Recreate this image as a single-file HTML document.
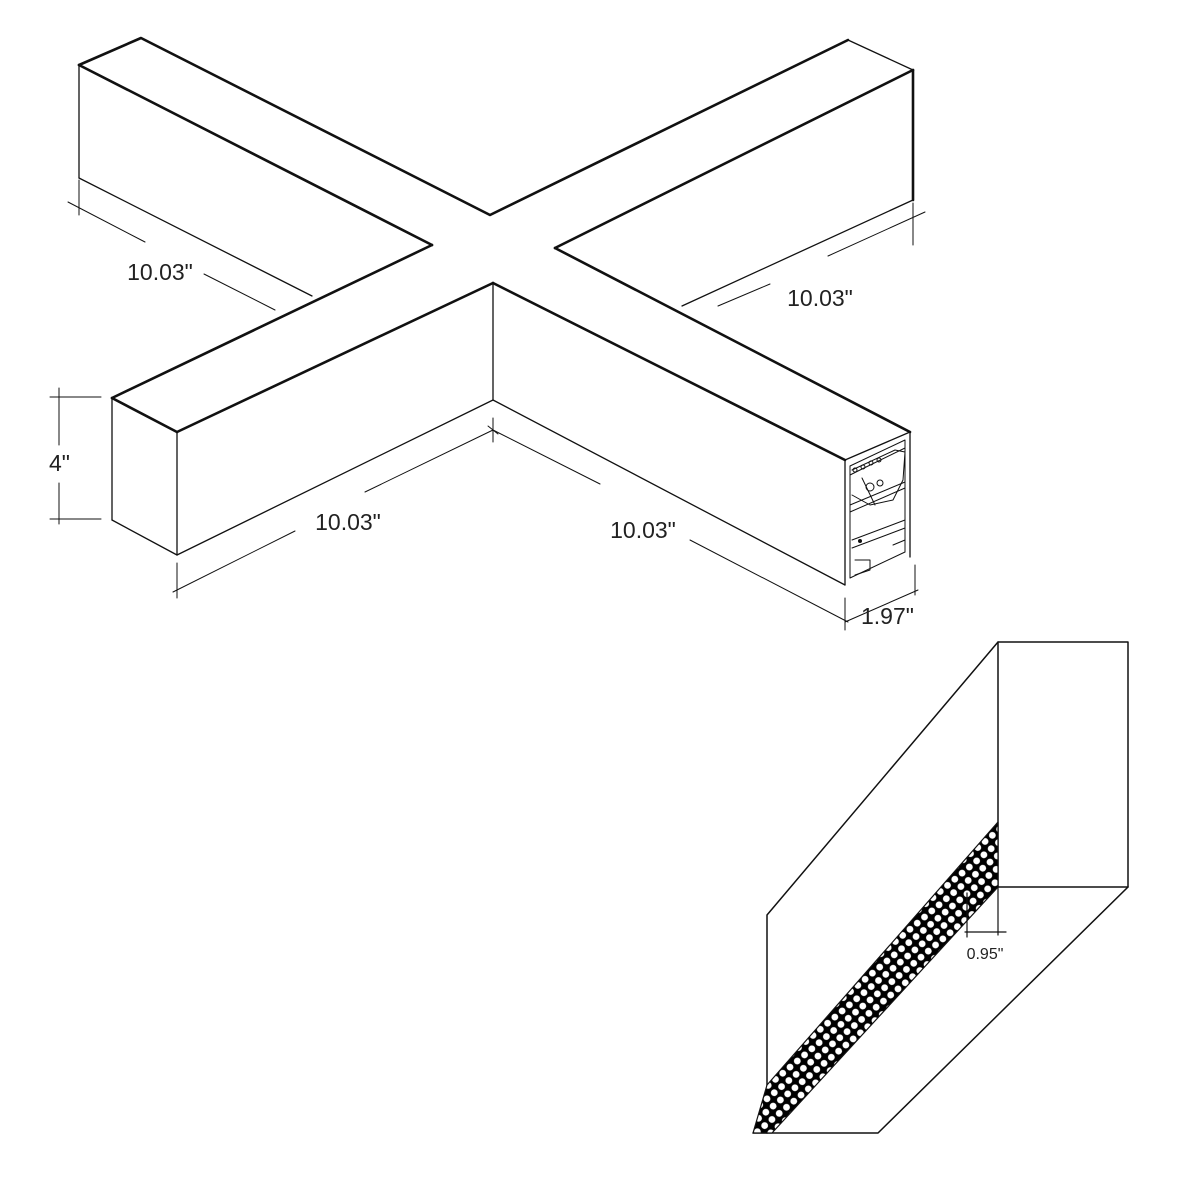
<!DOCTYPE html>
<html><head><style>body{margin:0;background:#fff}svg{display:block}</style></head><body>
<svg width="1200" height="1200" viewBox="0 0 1200 1200" xmlns="http://www.w3.org/2000/svg">
<defs>
<pattern id="perf" width="9.5" height="9.5" patternUnits="userSpaceOnUse" patternTransform="rotate(-40)">
<rect width="9.5" height="9.5" fill="#000"/><circle cx="4.75" cy="4.75" r="3.4" fill="#fff"/>
</pattern>
<clipPath id="band"><polygon points="998,822 767,1085 753,1133 772,1133 998,887"/></clipPath>
</defs>
<g fill="none" stroke="#111" stroke-linejoin="round" stroke-linecap="round">
<g stroke-width="2.6">
<polyline points="79,65 141,38 490,215 848,40"/>
<line x1="79" y1="65" x2="432" y2="245"/>
<polyline points="913,200 913,70"/>
<line x1="913" y1="70" x2="555" y2="248"/>
<line x1="555" y1="248" x2="910" y2="432"/>
<line x1="493" y1="283" x2="845" y2="460"/>
<line x1="432" y1="245" x2="112" y2="398"/>
<line x1="112" y1="398" x2="177" y2="432"/>
<line x1="177" y1="432" x2="493" y2="283"/>
</g>
<g stroke-width="1.3">
<line x1="848" y1="40" x2="913" y2="70"/>
<line x1="79" y1="65" x2="79" y2="178"/>
<line x1="845" y1="460" x2="910" y2="432"/>
<line x1="845" y1="460" x2="845" y2="585"/>
<line x1="910" y1="432" x2="910" y2="557"/>
<line x1="112" y1="398" x2="112" y2="520"/>
<line x1="177" y1="432" x2="177" y2="555"/>
<line x1="112" y1="520" x2="177" y2="555"/>
<line x1="177" y1="555" x2="493" y2="400"/>
<line x1="493" y1="283" x2="493" y2="400"/>
<line x1="493" y1="400" x2="845" y2="585"/>
<line x1="79" y1="178" x2="312" y2="296"/>
<line x1="913" y1="200" x2="682" y2="306"/>
</g>
<g stroke-width="1">
<polygon points="850,466 905,440 905,552 850,578"/>
<polyline points="850,475 860,470 905,448"/>
<polyline points="852,470 895,450 905,452 903,480 893,500 870,505 852,495"/>
<polyline points="862,478 875,505"/>
<polyline points="850,505 905,482"/>
<polyline points="850,512 905,488"/>
<polyline points="852,540 905,520"/>
<polyline points="852,548 905,528"/>
<polyline points="855,560 870,560 870,570 855,575"/>
<polyline points="893,545 905,540 905,552"/>
<circle cx="855" cy="470" r="2"/><circle cx="863" cy="467" r="2"/><circle cx="871" cy="463" r="2"/><circle cx="879" cy="460" r="2"/>
<circle cx="870" cy="487" r="4"/><circle cx="880" cy="483" r="3"/>
</g>
<circle cx="860" cy="541" r="2" fill="#111" stroke="none"/>
<g stroke-width="1">
<line x1="79" y1="180" x2="79" y2="215"/>
<line x1="68" y1="202" x2="145" y2="242"/>
<line x1="204" y1="274" x2="275" y2="310"/>
<line x1="59" y1="388" x2="59" y2="445"/>
<line x1="59" y1="483" x2="59" y2="524"/>
<line x1="50" y1="397" x2="101" y2="397"/>
<line x1="50" y1="519" x2="101" y2="519"/>
<line x1="177" y1="563" x2="177" y2="598"/>
<line x1="173" y1="592" x2="295" y2="531"/>
<line x1="365" y1="492" x2="493" y2="430"/>
<line x1="493" y1="418" x2="493" y2="442"/>
<line x1="488" y1="426" x2="498" y2="434"/>
<line x1="493" y1="430" x2="600" y2="484"/>
<line x1="690" y1="540" x2="848" y2="622"/>
<line x1="845" y1="598" x2="845" y2="630"/>
<line x1="845" y1="622" x2="918" y2="590"/>
<line x1="915" y1="565" x2="915" y2="595"/>
<line x1="913" y1="203" x2="913" y2="245"/>
<line x1="925" y1="212" x2="828" y2="256"/>
<line x1="770" y1="284" x2="718" y2="306"/>
</g>
<rect x="998" y="642" width="130" height="245" fill="#fff" stroke-width="1.5"/>
<g stroke-width="1.5">
<polyline points="998,642 767,915 767,1133"/>
<polyline points="753,1133 878,1133 1128,887"/>
</g>
<g clip-path="url(#band)"><rect x="740" y="800" width="270" height="340" fill="url(#perf)" stroke="none"/></g>
<g stroke-width="1.2">
<polygon points="998,822 767,1085 753,1133 772,1133 998,887"/>
<line x1="998" y1="887" x2="998" y2="935"/>
<line x1="967" y1="893" x2="967" y2="937"/>
<line x1="965" y1="932" x2="1006" y2="932"/>
</g>
</g>
<g font-family="Liberation Sans, sans-serif" fill="#222">
<g font-size="23">
<text x="160" y="280" text-anchor="middle">10.03"</text>
<text x="820" y="306" text-anchor="middle">10.03"</text>
<text x="348" y="530" text-anchor="middle">10.03"</text>
<text x="643" y="538" text-anchor="middle">10.03"</text>
<text x="49" y="471">4"</text>
<text x="861" y="624">1.97"</text>
</g>
<text x="985" y="959" font-size="16" text-anchor="middle">0.95"</text>
</g>
</svg>
</body></html>
